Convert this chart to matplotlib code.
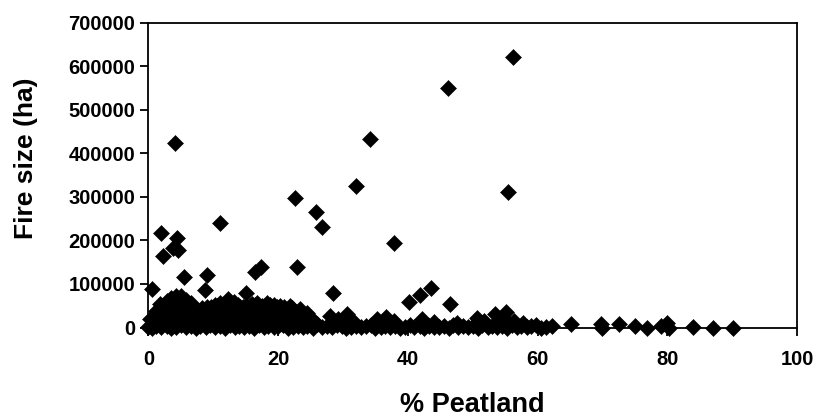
import matplotlib
matplotlib.use("Agg")
import matplotlib.pyplot as plt
from matplotlib.ticker import MultipleLocator, FuncFormatter

plt.rcParams['font.family'] = ['Liberation Sans', 'DejaVu Sans']

# large fires
big_pct = [4.1, 1.9, 4.35, 2.3, 3.8, 4.6, 11.0, 22.6, 25.8, 26.7, 22.9, 17.3,
           16.4, 5.4, 9.0, 8.7, 0.6, 28.5, 56.2, 46.2, 34.2, 32.0, 55.4, 37.9,
           43.6, 41.8, 40.1, 46.5, 15.1]
big_ha = [423000, 216000, 205000, 164000, 182000, 178000, 241000, 297000,
          266000, 230000, 140000, 140000, 128000, 115000, 121000, 86000,
          88000, 79000, 622000, 550000, 433000, 326000, 312000, 195000,
          90000, 75000, 59000, 53000, 80000]

# fires close to the x axis
low_pct = [0, 0.5, 1.2, 2, 2.8, 3.5, 4.3, 5, 5.8, 6.5, 7.3, 8, 8.8, 9.5, 10.3,
           11, 11.8, 12.5, 13.3, 14, 14.8, 15.5, 16.3, 17, 17.8, 18.5, 19.3,
           20, 20.8, 21.5, 22.3, 23, 23.8, 24.5, 25.3, 26, 26.8, 27.5, 28.3,
           29, 29.8, 30.5, 31.3, 32, 32.8, 33.5, 34.3, 35, 35.8, 36.5, 37.3,
           38, 38.8, 39.5, 40.3, 41, 41.8, 42.5, 43.3, 44, 44.8, 45.5, 46.3,
           47, 47.8, 48.5, 49.3, 50, 50.8, 51.5, 52.3, 53, 53.8, 54.5, 55.3,
           56, 56.8, 57.5, 58.3, 59, 59.8, 60.5, 61.3, 62.2,
           65.2, 69.8, 69.9, 72.6, 75.0, 76.9, 79.1, 80.0, 80.2, 83.9, 87.1, 90.1]
low_ha = [2000, 0, 3000, 1000, 4000, 0, 2000, 5000, 1000, 3000, 0, 4000, 2000,
          6000, 1000, 3000, 0, 5000, 2000, 4000, 1000, 3000, 0, 6000, 2000,
          4000, 1000, 3000, 5000, 0, 2000, 4000, 1000, 3000, 0, 8000, 2000,
          4000, 1000, 5000, 3000, 0, 2000, 4000, 1000, 3000, 5000, 0, 2000,
          4000, 1000, 3000, 0, 2000, 5000, 1000, 3000, 0, 4000, 2000, 1000,
          3000, 0, 5000, 2000, 4000, 1000, 3000, 0, 6000, 2000, 4000, 1000,
          3000, 0, 5000, 2000, 4000, 1000, 3000, 5000, 0, 2000, 3000,
          8000, 8000, 0, 9000, 4000, 0, 3000, 11000, 0, 1000, 0, 0]

# middle band of the dense cluster
mid_pct = [0.3, 1.5, 2.7, 3.9, 5.1, 6.3, 7.5, 8.7, 9.9, 11.1, 12.3, 13.5,
           14.7, 15.9, 17.1, 18.3, 19.5, 20.7, 21.9, 23.1, 24.3, 25.4, 28.0,
           29.2, 30.6, 31.5, 35.2, 36.7, 37.8, 42.1, 50.6, 51.8, 53.4, 55.0,
           55.2, 56.3, 57.8, 44.0, 47.5,
           1.2, 2.4, 3.6, 4.8, 6.0, 7.2, 8.4, 9.6, 10.8, 12.0, 13.2, 14.4,
           15.6, 16.8, 18.0, 19.2, 20.4, 21.6, 22.8, 24.0]
mid_ha = [19000, 22000, 24000, 20000, 23000, 21000, 18000, 22000, 20000,
          24000, 21000, 19000, 23000, 20000, 22000, 24000, 21000, 19000,
          22000, 20000, 23000, 18000, 27000, 20000, 31000, 15000, 19000,
          24000, 14000, 19000, 23000, 15000, 31000, 19000, 36000, 15000, 11000,
          12000, 10000,
          38000, 40000, 36000, 39000, 37000, 33000, 36000, 40000, 38000, 35000,
          39000, 37000, 40000, 36000, 38000, 35000, 37000, 34000, 36000, 30000]

# top of the dense cluster
top_pct = [1.8, 2.8, 3.5, 4.2, 5.0, 5.8, 6.5, 9.0, 10.2, 11.0, 12.3, 13.2,
           14.1, 15.1, 16.0, 16.7, 18.2, 19.3, 20.3, 21.8, 23.4, 24.5,
           2.2, 3.0, 4.6, 5.4, 6.2, 8.2, 9.6, 10.6, 11.6, 12.8, 13.8, 14.6,
           15.6, 16.4, 17.5, 18.8, 19.8, 20.9, 22.2]
top_ha = [55000, 62000, 68000, 73000, 72000, 64000, 56000, 46000, 52000,
          57000, 65000, 58000, 46000, 50000, 55000, 57000, 57000, 52000,
          50000, 50000, 42000, 34000,
          48000, 52000, 55000, 54000, 50000, 44000, 48000, 50000, 53000,
          55000, 51000, 47000, 49000, 52000, 50000, 51000, 48000, 46000, 44000]

pct = big_pct + low_pct + mid_pct + top_pct
ha = big_ha + low_ha + mid_ha + top_ha

fig = plt.figure(figsize=(8.15, 4.17), dpi=100)
ax = fig.add_axes([0.1822, 0.2146, 0.7957, 0.7307])

ax.plot(pct, ha, linestyle='none', marker='D', markersize=7.8,
        color='black', markeredgewidth=0.4, clip_on=False, zorder=3)

ax.set_xlim(0, 100)
ax.set_ylim(0, 700000)
ax.xaxis.set_major_locator(MultipleLocator(20))
ax.yaxis.set_major_locator(MultipleLocator(100000))
ax.yaxis.set_major_formatter(FuncFormatter(lambda v, p: "%d" % v))

for s in ax.spines.values():
    s.set_linewidth(1.3)
ax.tick_params(axis='both', direction='out', length=5.5, width=1.3,
               labelsize=14.5)
ax.tick_params(axis='x', pad=11)
ax.tick_params(axis='y', pad=4)
for lab in ax.get_xticklabels() + ax.get_yticklabels():
    lab.set_fontweight('bold')

ax.set_xlabel("% Peatland", fontsize=19.5, fontweight='bold')
ax.set_ylabel("Fire size (ha)", fontsize=19, fontweight='bold')
ax.xaxis.set_label_coords(0.5, -0.212)
ax.yaxis.set_label_coords(-0.17, 0.556)

fig.savefig("out.png", dpi=100)
